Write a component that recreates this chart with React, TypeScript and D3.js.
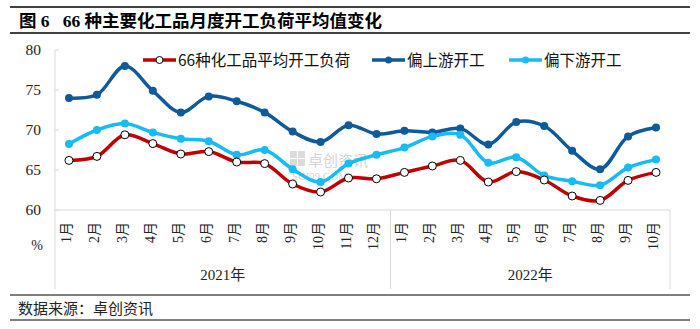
import React from "react";
import * as d3 from "d3";

const months = ["1月","2月","3月","4月","5月","6月","7月","8月","9月","10月","11月","12月","1月","2月","3月","4月","5月","6月","7月","8月","9月","10月"];
const years = ["2021年", "2022年"];
const yearCounts = [12, 10];
const avgLoad = [66.2,66.7,69.4,68.3,67.0,67.3,66.0,65.8,63.25,62.25,64.0,63.9,64.7,65.5,66.2,63.5,64.8,63.75,61.75,61.2,63.7,64.7];
const upstream = [74.0,74.4,78.0,74.9,72.2,74.2,73.6,72.2,69.8,68.5,70.6,69.5,69.9,69.7,70.2,68.2,71.0,70.5,67.4,65.1,69.2,70.3];
const downstream = [68.25,70.0,70.8,69.7,68.9,68.6,66.9,67.5,65.1,63.5,65.8,66.9,67.8,69.2,69.4,65.9,66.6,64.3,63.6,63.1,65.3,66.3];
const yTicks = [60,65,70,75,80];
const seriesNames = ["66种化工品平均开工负荷", "偏上游开工", "偏下游开工"];

const W = 700, H = 329;
const left = 55, right = 670, top = 50, bottom = 210;

export default function App() {
  const x = d3.scaleBand<number>().domain(d3.range(months.length)).range([left, right]);
  const y = d3.scaleLinear().domain([60, 80]).range([bottom, top]);
  const cx = (i: number) => (x(i) as number) + x.bandwidth() / 2;
  const line = d3.line<number>().x((_, i) => cx(i)).y(d => y(d)).curve(d3.curveCatmullRom.alpha(0.5));

  const serif = "'Liberation Serif', 'Times New Roman', 'Noto Sans CJK SC', serif";
  const sans = "'Noto Sans CJK SC', 'Liberation Sans', sans-serif";
  const red = "#C00000", dark = "#0E5A9A", light = "#17BBF6";

  let acc = 0;
  const groups = yearCounts.map((c, gi) => {
    const s = acc; acc += c;
    return { name: years[gi], x0: x(s) as number, x1: (x(acc - 1) as number) + x.bandwidth() };
  });

  const legend = [
    { name: seriesNames[0], color: red, lx: 143, hollow: true },
    { name: seriesNames[1], color: dark, lx: 372, hollow: false },
    { name: seriesNames[2], color: light, lx: 509, hollow: false },
  ];

  return (
    <svg width={W} height={H} style={{ position: "absolute", left: 0, top: 0, background: "#fff" }}>
      <line x1={10} x2={690} y1={7} y2={7} stroke="#000" strokeWidth={1.5} />
      <text x={19} y={27} fontFamily={serif} fontWeight="bold" fontSize={17.5}>图 6&#160;&#160;&#160;66 种主要化工品月度开工负荷平均值变化</text>
      <line x1={10} x2={690} y1={33} y2={33} stroke="#000" strokeWidth={1.5} />

      {/* watermark */}
      <g opacity={0.35}>
        <rect x={290} y={151} width={7} height={7} fill="#999" />
        <rect x={298} y={151} width={7} height={7} fill="#999" />
        <rect x={290} y={159} width={7} height={7} fill="#999" />
        <rect x={298} y={159} width={7} height={7} fill="#999" />
        <text x={308} y={166} fontFamily={sans} fontSize={15} fill="#888">卓创资讯</text>
        <text x={292} y={180} fontFamily={serif} fontSize={11} fill="#888">SCI99.COM</text>
      </g>

      {/* axes */}
      <line x1={left} x2={left} y1={top} y2={289} stroke="#D9D9D9" />
      <line x1={left} x2={right} y1={bottom} y2={bottom} stroke="#D9D9D9" />
      {yTicks.map(t => (
        <g key={t}>
          <line x1={left} x2={left + 4} y1={y(t)} y2={y(t)} stroke="#D9D9D9" />
          <text x={41} y={y(t) + 5} textAnchor="end" fontFamily={serif} fontSize={15.5} fill="#222">{t}</text>
        </g>
      ))}
      <text x={37} y={250} textAnchor="middle" fontFamily={serif} fontSize={14} fill="#222">%</text>
      {groups.map((g) => (
        <g key={g.name}>
          <line x1={g.x1} x2={g.x1} y1={bottom} y2={289} stroke="#D9D9D9" />
          <text x={(g.x0 + g.x1) / 2} y={280} textAnchor="middle" fontFamily={serif} fontSize={15} fill="#222">{g.name}</text>
        </g>
      ))}
      {months.map((m, i) => (
        <text key={i} transform={`translate(${cx(i) + 2},222) rotate(-90)`} textAnchor="end" fontFamily={serif} fontSize={14} fill="#222">{m}</text>
      ))}

      {/* series */}
      <path d={line(upstream) || ""} fill="none" stroke={dark} strokeWidth={3.5} />
      <path d={line(downstream) || ""} fill="none" stroke={light} strokeWidth={3.5} />
      <path d={line(avgLoad) || ""} fill="none" stroke={red} strokeWidth={3.5} />
      {upstream.map((v, i) => <circle key={"u" + i} cx={cx(i)} cy={y(v)} r={4} fill={dark} />)}
      {downstream.map((v, i) => <circle key={"d" + i} cx={cx(i)} cy={y(v)} r={4} fill={light} />)}
      {avgLoad.map((v, i) => <circle key={"a" + i} cx={cx(i)} cy={y(v)} r={4} fill="#fff" stroke="#000" strokeWidth={1} />)}

      {/* legend */}
      {legend.map(l => (
        <g key={l.name}>
          <line x1={l.lx} x2={l.lx + 33} y1={60} y2={60} stroke={l.color} strokeWidth={3.5} />
          {l.hollow
            ? <circle cx={l.lx + 16.5} cy={60} r={3.5} fill="#fff" stroke="#000" />
            : <circle cx={l.lx + 16.5} cy={60} r={3.5} fill={l.color} />}
          <text x={l.lx + 35} y={66} fontFamily={sans} fontSize={15.5} fill="#111">{l.name}</text>
        </g>
      ))}

      {/* source */}
      <line x1={10} x2={690} y1={295} y2={295} stroke="#000" strokeWidth={1} />
      <text x={18} y={314} fontFamily={sans} fontSize={15} fill="#222">数据来源：卓创资讯</text>
      <line x1={10} x2={690} y1={320} y2={320} stroke="#000" strokeWidth={1} />
    </svg>
  );
}
